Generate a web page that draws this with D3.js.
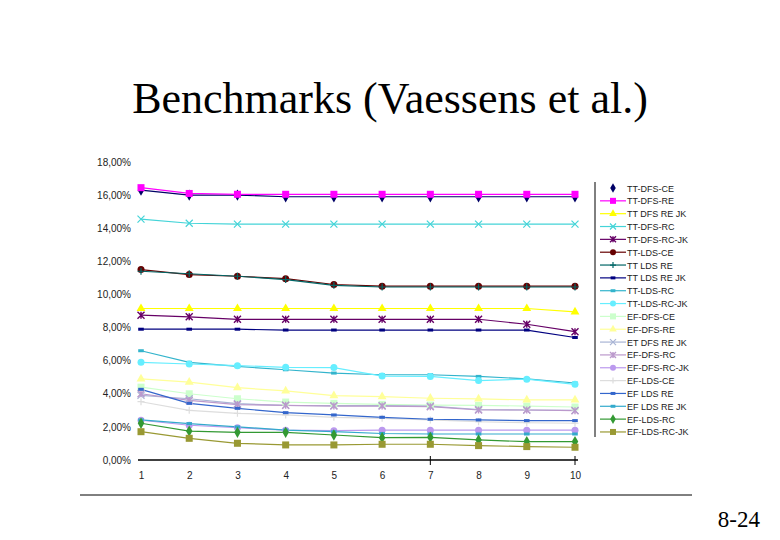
<!DOCTYPE html>
<html>
<head>
<meta charset="utf-8">
<script src="https://cdn.jsdelivr.net/npm/d3@7"></script>
<style>
  body { margin: 0; background: #fff; }
  svg { display: block; }
</style>
</head>
<body>
<div id="chart"></div>
<script>
// categories on the x axis
const categories = [1, 2, 3, 4, 5, 6, 7, 8, 9, 10];
const yTicks = [0, 2, 4, 6, 8, 10, 12, 14, 16, 18];
const xTickMarks = [7, 10];

// series names (legend order)
const seriesNames = [
    'TT-DFS-CE', 'TT-DFS-RE', 'TT DFS RE JK', 'TT-DFS-RC', 'TT-DFS-RC-JK',
    'TT-LDS-CE', 'TT LDS RE', 'TT LDS RE JK', 'TT-LDS-RC', 'TT-LDS-RC-JK',
    'EF-DFS-CE', 'EF-DFS-RE', 'ET DFS RE JK', 'EF-DFS-RC', 'EF-DFS-RC-JK',
    'EF-LDS-CE', 'EF LDS RE', 'EF LDS RE JK', 'EF-LDS-RC', 'EF-LDS-RC-JK'
];

// values in percent, one array per series
const ttDfsCe = [16.3, 16.0, 16.0, 15.9, 15.9, 15.9, 15.9, 15.9, 15.9, 15.9];
const ttDfsRe = [16.45, 16.1, 16.05, 16.05, 16.05, 16.05, 16.05, 16.05, 16.05, 16.05];
const ttDfsReJk = [9.15, 9.15, 9.15, 9.15, 9.15, 9.15, 9.15, 9.15, 9.15, 8.95];
const ttDfsRc = [14.55, 14.3, 14.25, 14.25, 14.25, 14.25, 14.25, 14.25, 14.25, 14.25];
const ttDfsRcJk = [8.75, 8.65, 8.5, 8.5, 8.5, 8.5, 8.5, 8.5, 8.2, 7.75];
const ttLdsCe = [11.5, 11.2, 11.1, 10.95, 10.6, 10.5, 10.5, 10.5, 10.5, 10.5];
const ttLdsRe = [11.4, 11.25, 11.1, 10.9, 10.55, 10.45, 10.45, 10.45, 10.45, 10.45];
const ttLdsReJk = [7.9, 7.9, 7.9, 7.85, 7.85, 7.85, 7.85, 7.85, 7.85, 7.4];
const ttLdsRc = [6.6, 5.9, 5.65, 5.45, 5.25, 5.15, 5.15, 5.05, 4.9, 4.65];
const ttLdsRcJk = [5.9, 5.8, 5.7, 5.6, 5.58, 5.07, 5.05, 4.8, 4.88, 4.57];
const efDfsCe = [4.4, 4.0, 3.7, 3.5, 3.42, 3.36, 3.32, 3.3, 3.26, 3.2];
const efDfsRe = [4.9, 4.7, 4.37, 4.17, 3.89, 3.83, 3.73, 3.69, 3.63, 3.63];
const efDfsReJk = [3.9, 3.7, 3.4, 3.3, 3.28, 3.28, 3.25, 3.05, 3.02, 3.0];
const efDfsRc = [4.0, 3.6, 3.35, 3.3, 3.26, 3.26, 3.22, 3.02, 3.02, 2.98];
const efDfsRcJk = [2.4, 2.1, 1.95, 1.8, 1.77, 1.8, 1.8, 1.8, 1.8, 1.8];
const efLdsCe = [3.52, 3.0, 2.82, 2.72, 2.58, 2.52, 2.42, 2.31, 2.25, 2.22];
const efLdsRe = [4.27, 3.42, 3.12, 2.86, 2.72, 2.58, 2.46, 2.42, 2.38, 2.38];
const efLdsReJk = [2.42, 2.2, 2.0, 1.81, 1.71, 1.6, 1.57, 1.57, 1.57, 1.57];
const efLdsRc = [2.22, 1.75, 1.67, 1.67, 1.51, 1.35, 1.37, 1.21, 1.11, 1.11];
const efLdsRcJk = [1.71, 1.31, 1.01, 0.91, 0.91, 0.95, 0.95, 0.87, 0.81, 0.77];

const seriesValues = [
    ttDfsCe, ttDfsRe, ttDfsReJk, ttDfsRc, ttDfsRcJk,
    ttLdsCe, ttLdsRe, ttLdsReJk, ttLdsRc, ttLdsRcJk,
    efDfsCe, efDfsRe, efDfsReJk, efDfsRc, efDfsRcJk,
    efLdsCe, efLdsRe, efLdsReJk, efLdsRc, efLdsRcJk
];

const seriesColors = [
    '#000066', '#ff00ff', '#ffff00', '#44d4d8', '#660066',
    '#660000', '#006666', '#000080', '#33b4cc', '#66eeff',
    '#ccffcc', '#ffff99', '#a8b4d4', '#bb99cc', '#bb99ee',
    '#dddddd', '#3366cc', '#33aacc', '#339933', '#999933'
];
const seriesMarkers = [
    'diamond', 'square', 'triangle', 'x', 'asterisk',
    'circle', 'plus', 'dash', 'dash', 'circle',
    'square', 'triangle', 'x', 'asterisk', 'circle',
    'plus', 'dash', 'dash', 'diamond', 'square'
];

const width = 780;
const height = 540;

const svg = d3.select('#chart')
    .append('svg')
    .attr('width', width)
    .attr('height', height)
    .style('background', '#fff');

// Slide title
svg.append('text')
    .attr('x', 390)
    .attr('y', 113)
    .attr('text-anchor', 'middle')
    .style('font-family', '"Liberation Serif", "Times New Roman", serif')
    .style('font-size', '44px')
    .text('Benchmarks (Vaessens et al.)');

// scales
const xScale = d3.scalePoint()
    .domain(categories)
    .range([141, 575]);
const yScale = d3.scaleLinear()
    .domain([0, 18])
    .range([460, 162]);

// y labels (no axis line)
const yAxis = d3.axisLeft(yScale)
    .tickValues(yTicks)
    .tickSize(0)
    .tickPadding(0)
    .tickFormat(d => d3.format('.2f')(d).replace('.', ',') + '%');
const yG = svg.append('g')
    .attr('transform', 'translate(131,0)')
    .call(yAxis);
yG.select('.domain').remove();
yG.selectAll('text')
    .style('font-family', 'Arial, "Liberation Sans", sans-serif')
    .style('font-size', '10px')
    .attr('fill', '#222');

// x axis
const xAxis = d3.axisBottom(xScale)
    .tickSize(0)
    .tickPadding(12);
const xG = svg.append('g')
    .attr('transform', 'translate(0,460)')
    .call(xAxis);
xG.select('.domain')
    .attr('d', 'M138,0H578')
    .attr('stroke', '#000')
    .attr('stroke-width', 1.3);
xG.selectAll('text')
    .style('font-family', 'Arial, "Liberation Sans", sans-serif')
    .style('font-size', '10px')
    .attr('fill', '#222');
xG.selectAll('.tickmark')
    .data(xTickMarks)
    .enter()
    .append('line')
    .attr('x1', d => xScale(d))
    .attr('x2', d => xScale(d))
    .attr('y1', -4)
    .attr('y2', 5)
    .attr('stroke', '#000');

// marker drawing
function drawMarker(g, type, color, size) {
    const s = size / 2;
    if (type === 'diamond') {
        g.append('path').attr('d', d3.symbol(d3.symbolDiamond, size * size * 0.75)()).attr('fill', color);
    } else if (type === 'square') {
        g.append('rect').attr('x', -s).attr('y', -s).attr('width', size).attr('height', size).attr('fill', color);
    } else if (type === 'triangle') {
        g.append('path').attr('d', d3.symbol(d3.symbolTriangle, size * size * 0.7)()).attr('fill', color);
    } else if (type === 'circle') {
        g.append('circle').attr('r', s).attr('fill', color);
    } else if (type === 'x') {
        g.append('path').attr('d', `M${-s},${-s}L${s},${s}M${-s},${s}L${s},${-s}`)
            .attr('stroke', color).attr('stroke-width', 1.2);
    } else if (type === 'asterisk') {
        g.append('path').attr('d', `M${-s},${-s}L${s},${s}M${-s},${s}L${s},${-s}M0,${-s}V${s}`)
            .attr('stroke', color).attr('stroke-width', 1.4);
    } else if (type === 'plus') {
        g.append('path').attr('d', `M${-s},0H${s}M0,${-s}V${s}`)
            .attr('stroke', color).attr('stroke-width', 1.2);
    } else if (type === 'dash') {
        g.append('rect').attr('x', -s * 0.8).attr('y', -1.5).attr('width', size * 0.8).attr('height', 3).attr('fill', color);
    }
}

const line = d3.line()
    .x((d, i) => xScale(categories[i]))
    .y(d => yScale(d));

const plot = svg.append('g');

// lines first, then markers
seriesValues.forEach((vals, k) => {
    plot.append('path')
        .datum(vals)
        .attr('d', line)
        .attr('fill', 'none')
        .attr('stroke', seriesColors[k])
        .attr('stroke-width', 1.2);
});
seriesValues.forEach((vals, k) => {
    vals.forEach((v, i) => {
        const g = plot.append('g')
            .attr('transform', `translate(${xScale(categories[i])},${yScale(v)})`);
        drawMarker(g, seriesMarkers[k], seriesColors[k], 7);
    });
});

// legend
const legend = svg.append('g');
legend.append('line')
    .attr('x1', 595).attr('x2', 595)
    .attr('y1', 182).attr('y2', 437)
    .attr('stroke', '#000');
seriesNames.forEach((name, k) => {
    const ly = 188 + k * 12.84;
    const row = legend.append('g').attr('transform', `translate(0,${ly})`);
    if (k > 0) {
        row.append('line')
            .attr('x1', 600).attr('x2', 626)
            .attr('stroke', seriesColors[k])
            .attr('stroke-width', 1.2);
    }
    const mg = row.append('g').attr('transform', 'translate(613,0)');
    drawMarker(mg, seriesMarkers[k], seriesColors[k], 6);
    row.append('text')
        .attr('x', 627)
        .attr('y', 3.5)
        .style('font-family', 'Arial, "Liberation Sans", sans-serif')
        .style('font-size', '9px')
        .attr('fill', '#222')
        .text(name);
});

// slide footer rule and page number
svg.append('line')
    .attr('x1', 80).attr('x2', 692)
    .attr('y1', 495).attr('y2', 495)
    .attr('stroke', '#000');
svg.append('text')
    .attr('x', 760)
    .attr('y', 527)
    .attr('text-anchor', 'end')
    .style('font-family', '"Liberation Serif", "Times New Roman", serif')
    .style('font-size', '23px')
    .text('8-24');
</script>
</body>
</html>
